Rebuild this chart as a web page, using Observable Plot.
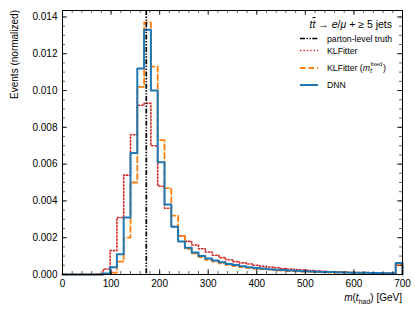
<!DOCTYPE html>
<html><head><meta charset="utf-8">
<script src="https://cdn.jsdelivr.net/npm/d3@7"></script>
<script src="https://cdn.jsdelivr.net/npm/@observablehq/plot@0.6"></script>
<style>
body{margin:0;background:#fff}
#chart{position:relative;width:415px;height:311px}
</style>
</head><body><div id="chart"></div>
<script>
// ---- data ----
const binWidth = 14;           // GeV, 50 bins from 0 to 700
const xMax = 700;
const truthMass = 172.5;
const seriesNames = ["KLFitter", "KLFitter (m_t^fixed)", "DNN"];
const klfitter = [0,0,0,0,0,0.00003,0.0003,0.0013,0.0031,0.0054,
  0.0076,0.0092,0.0093,0.0070,0.0048,0.0036,0.0026,0.0021,0.0018,0.0016,
  0.0014,0.00122,0.00105,0.00092,0.0008,0.0007,0.00063,0.00057,0.0005,0.00045,
  0.00041,0.00037,0.00033,0.0003,0.00027,0.00024,0.00021,0.00019,0.00017,0.00015,
  0.00014,0.00013,0.00012,0.00011,0.0001,0.00009,0.00009,0.00008,0.00008,0.0005];
const klfitterFixed = [0,0,0,0,0,0,0.00002,0.0001,0.0007,0.0020,
  0.0050,0.0102,0.0137,0.0113,0.0073,0.0047,0.0032,0.0021,0.0014,0.00115,
  0.00095,0.0008,0.0007,0.0006,0.00052,0.00046,0.0004,0.00036,0.00032,0.00029,
  0.00026,0.00023,0.00021,0.00019,0.00017,0.00016,0.00014,0.00013,0.00012,0.00011,
  0.0001,0.0001,0.00009,0.00008,0.00008,0.00007,0.00007,0.00006,0.00006,0.00056];
const dnn = [0,0,0,0,0,0,0.00005,0.0004,0.0011,0.0031,
  0.0066,0.0112,0.0133,0.0100,0.0061,0.0038,0.0026,0.0018,0.00145,0.0012,
  0.00100,0.00087,0.00076,0.00066,0.00057,0.00051,0.00045,0.00040,0.00036,0.00032,
  0.00029,0.00026,0.00024,0.00022,0.0002,0.00018,0.00016,0.00015,0.00014,0.00013,
  0.00012,0.00011,0.0001,0.00009,0.00009,0.00008,0.00008,0.00007,0.00007,0.00062];
const xMajorTicks = [0,100,200,300,400,500,600,700];
const xMinorTicks = d3.range(0, 701, 20);
const yMajorTicks = [0,0.002,0.004,0.006,0.008,0.010,0.012,0.014];
const yMinorTicks = d3.range(0, 0.01436, 0.0005);
const yMax = 0.01435;

// ---- helpers ----
function steps(vals) {
  const pts = vals.map((v, i) => ({x: i * binWidth, y: v}));
  pts.push({x: xMax, y: vals[vals.length - 1]});
  pts.push({x: xMax, y: 0});
  return pts;
}
const font = "'Liberation Sans', Arial, Helvetica, sans-serif";
const W = 415, H = 311, mL = 62, mR = 13, mT = 10, mB = 37;
const iw = W - mL - mR, ih = H - mT - mB;
const C = {red: "#d62728", orange: "#ff7f0e", blue: "#1f77b4"};
const dash = {truth: "5,1.5,1.4,1.5,1.4,1.5", red: "1.4,2", orange: "5.5,3"};

const svg = Plot.plot({
  width: W, height: H,
  marginLeft: mL, marginRight: mR, marginTop: mT, marginBottom: mB,
  style: {fontFamily: font, fontSize: "10px", color: "#000", background: "#fff"},
  x: {domain: [0, xMax]},
  y: {domain: [0, yMax]},
  marks: [
    Plot.line(steps(klfitter), {x: "x", y: "y", curve: "step-after", stroke: C.red, strokeWidth: 1.6, strokeDasharray: dash.red}),
    Plot.line(steps(klfitterFixed), {x: "x", y: "y", curve: "step-after", stroke: C.orange, strokeWidth: 1.8, strokeDasharray: dash.orange}),
    Plot.line(steps(dnn), {x: "x", y: "y", curve: "step-after", stroke: C.blue, strokeWidth: 2}),
    Plot.ruleX([truthMass], {stroke: "#000", strokeWidth: 1.7, strokeDasharray: dash.truth}),
    // inward ticks, all four sides
    Plot.ruleX(xMajorTicks, {stroke: "#000", strokeWidth: 0.8, insetTop: ih - 5}),
    Plot.ruleX(xMajorTicks, {stroke: "#000", strokeWidth: 0.8, insetBottom: ih - 5}),
    Plot.ruleX(xMinorTicks, {stroke: "#000", strokeWidth: 0.6, insetTop: ih - 3}),
    Plot.ruleX(xMinorTicks, {stroke: "#000", strokeWidth: 0.6, insetBottom: ih - 3}),
    Plot.ruleY(yMajorTicks, {stroke: "#000", strokeWidth: 0.8, insetRight: iw - 5}),
    Plot.ruleY(yMajorTicks, {stroke: "#000", strokeWidth: 0.8, insetLeft: iw - 5}),
    Plot.ruleY(yMinorTicks, {stroke: "#000", strokeWidth: 0.6, insetRight: iw - 3}),
    Plot.ruleY(yMinorTicks, {stroke: "#000", strokeWidth: 0.6, insetLeft: iw - 3}),
    Plot.frame({stroke: "#000", strokeWidth: 1}),
    Plot.axisX({ticks: xMajorTicks, tickSize: 0, tickPadding: 5, label: null, tickFormat: d => String(d)}),
    Plot.axisY({ticks: yMajorTicks, tickSize: 0, tickPadding: 5, label: null, tickFormat: d3.format(".3f")})
  ]
});
document.getElementById("chart").appendChild(svg);

const s = d3.select(svg);
function txt(x, y, size, anchor) {
  return s.append("text").attr("x", x).attr("y", y).attr("text-anchor", anchor || "start")
    .attr("font-family", font).attr("font-size", size).attr("fill", "#000");
}
// axis labels
s.append("text").attr("transform", `translate(18,${mT}) rotate(-90)`)
  .attr("text-anchor", "end").attr("font-family", font).attr("font-size", 10).attr("fill", "#000")
  .text("Events (normalized)");
const xl = txt(W - mR, 301, 10, "end");
xl.append("tspan").attr("font-style", "italic").text("m");
xl.append("tspan").text("(");
xl.append("tspan").attr("font-style", "italic").text("t");
xl.append("tspan").attr("font-size", 7).attr("dy", 2.5).text("had");
xl.append("tspan").attr("dy", -2.5).text(") [GeV]");

// legend title
const tt = txt(392, 28, 10.5, "end");
tt.append("tspan").attr("font-style", "italic").text("t");
tt.append("tspan").attr("font-style", "italic").style("text-decoration", "overline").text("t");
tt.append("tspan").text(" \u2192 ");
tt.append("tspan").attr("font-style", "italic").text("e");
tt.append("tspan").text("/");
tt.append("tspan").attr("font-style", "italic").text("\u03bc");
tt.append("tspan").text(" + \u2265 5 jets");

// legend entries
const lx0 = 300, lx1 = 318, tx = 327, fs = 8.7;
const entries = [
  {y: 38.5, stroke: "#000", w: 1.7, dash: dash.truth, label: "parton-level truth"},
  {y: 50.5, stroke: C.red, w: 1.6, dash: dash.red, label: seriesNames[0]},
  {y: 68, stroke: C.orange, w: 1.8, dash: dash.orange, label: null},
  {y: 85, stroke: C.blue, w: 2, dash: null, label: seriesNames[2]}
];
for (const e of entries) {
  const ln = s.append("line").attr("x1", lx0).attr("x2", lx1).attr("y1", e.y).attr("y2", e.y)
    .attr("stroke", e.stroke).attr("stroke-width", e.w);
  if (e.dash) ln.attr("stroke-dasharray", e.dash);
  if (e.label) {
    txt(tx, e.y + 3, fs).text(e.label);
  } else {
    const t = txt(tx, e.y + 3, fs);
    t.append("tspan").text("KLFitter (");
    t.append("tspan").attr("font-style", "italic").text("m");
    const w = t.node().getComputedTextLength();
    const sup = txt(tx + w + 0.5, e.y - 2.5, 5.5).text("fixed");
    txt(tx + w + 0.3, e.y + 5, 6.5).attr("font-style", "italic").text("t");
    const ws = sup.node().getComputedTextLength();
    txt(tx + w + ws + 1.5, e.y + 3, fs).text(")");
  }
}
</script>
</body></html>
